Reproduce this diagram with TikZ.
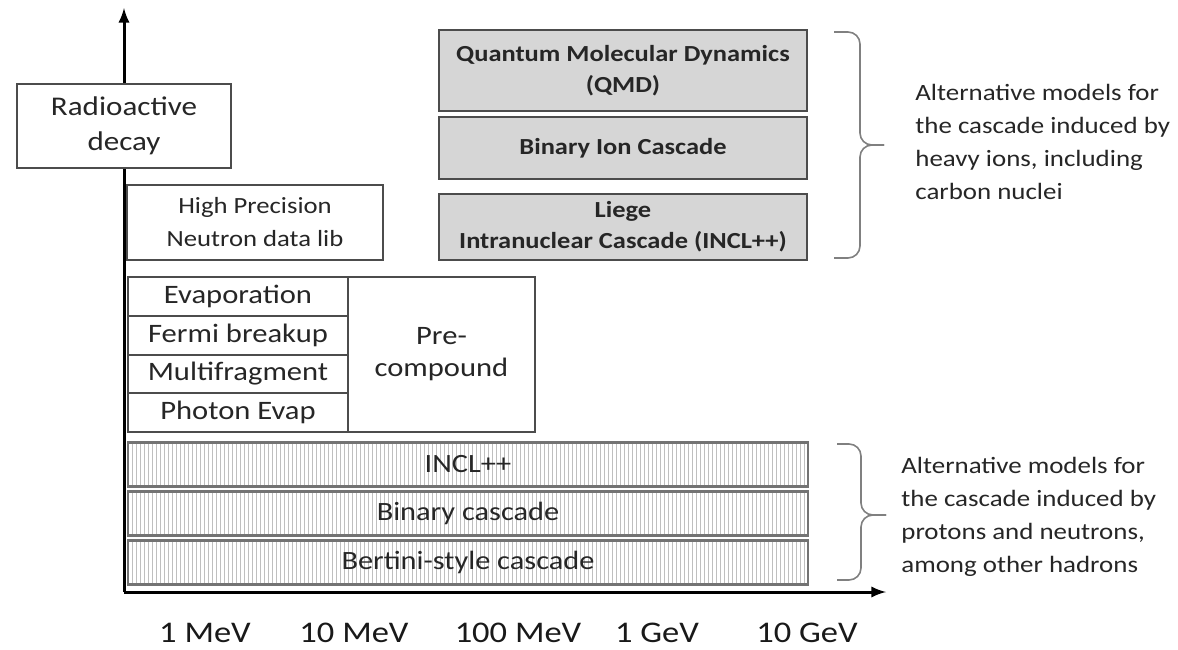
\documentclass[tikz,border=0pt]{standalone}
\usepackage{fontspec}
\setmainfont{Carlito}[FakeStretch=1.15]
\usetikzlibrary{arrows,patterns.meta}

\begin{document}
\begin{tikzpicture}[x=0.5pt,y=-0.5pt,
  box/.style={draw=black!70, line width=1pt, fill=white, align=center,
    inner sep=0pt, text=black!85},
  ionbox/.style={box, fill=black!16, minimum width=184pt,
    font=\fontsize{11.5}{15.5}\selectfont\bfseries},
  evbox/.style={box, minimum width=110pt, minimum height=19.375pt,
    font=\fontsize{13.3}{16}\selectfont},
  hadbox/.style={box, draw=black!55, line width=1.3pt, fill=none,
    pattern={Lines[angle=90,distance=2pt,line width=0.35pt]},
    pattern color=black!25, minimum width=340pt, minimum height=22pt,
    font=\fontsize{13.2}{16}\selectfont},
  brace/.style={draw=black!50, line width=0.8pt, rounded corners=6pt},
  note/.style={align=left, inner sep=0pt, text=black!85,
    font=\fontsize{11.7}{16.5}\selectfont},
  tick/.style={inner sep=0pt, text=black!90, font=\fontsize{15}{18}\selectfont}]
  \useasboundingbox (0,0) rectangle (1178,649);

  %% Axes
  \coordinate (O) at (124,592);
  \coordinate (Ytop) at (124,8);
  \coordinate (Xend) at (886,592);
  \draw[-latex, line width=1.5pt] (O) -- (Ytop);
  \draw[-latex, line width=1.5pt] (O) -- (Xend);

  %% Low energy models
  \node[box, minimum width=107pt, minimum height=42pt,
    font=\fontsize{13.5}{17.5}\selectfont] (rad) at (124,126) {Radioactive\\decay};
  \node[box, minimum width=128pt, minimum height=37.5pt,
    font=\fontsize{11.6}{16.5}\selectfont] (hpn) at (255,222.5) {High Precision\\Neutron data lib};

  \foreach \txt [count=\i from 0] in {Evaporation, Fermi breakup, Multifragment, Photon Evap}
  {
    \node[evbox] (ev\i) at (238,{296.4+38.75*\i}) {\txt};
  }
  \node[box, minimum width=93.5pt, minimum height=77.5pt,
    font=\fontsize{13.3}{16}\selectfont] (pre) at (441.5,354.5) {Pre-\\compound};

  %% Heavy ion cascades
  \node[ionbox, minimum height=40.5pt] (qmd) at (623,70.5) {Quantum Molecular Dynamics\\(QMD)};
  \node[ionbox, minimum height=31pt] (bic) at (623,148) {Binary Ion Cascade};
  \node[ionbox, minimum height=33pt] (liege) at (623,227) {Liege\\Intranuclear Cascade (INCL++)};

  %% Hadron cascades
  \foreach \txt/\nm [count=\i from 0] in {INCL++/incl, Binary cascade/bin, Bertini-style cascade/bert}
  {
    \node[hadbox] (\nm) at (468,{464.5+49*\i}) {\txt};
  }

  %% Braces and notes
  \coordinate (ionT) at (834,32);
  \coordinate (ionB) at (834,258);
  \coordinate (ionM) at (860,145);
  \coordinate (ionTip) at (884,145);
  \draw[brace] (ionT) -| (ionM) -- (ionTip);
  \draw[brace] (ionB) -| (ionM) -- (ionTip);
  \node[note, anchor=west] (ionnote) at (915,142)
    {Alternative models for\\the cascade induced by\\heavy ions, including\\carbon nuclei};

  \coordinate (hadT) at (837,444);
  \coordinate (hadB) at (837,580);
  \coordinate (hadM) at (861,515);
  \coordinate (hadTip) at (886,515);
  \draw[brace] (hadT) -| (hadM) -- (hadTip);
  \draw[brace] (hadB) -| (hadM) -- (hadTip);
  \node[note, anchor=west] (hadnote) at (901,517)
    {Alternative models for\\the cascade induced by\\protons and neutrons,\\among other hadrons};

  %% Energy labels
  \foreach \xc/\lab [count=\i] in {205/1 MeV, 354/10 MeV, 518/100 MeV, 657/1 GeV, 807/10 GeV}
  {
    \node[tick] (en\i) at (\xc,633) {\lab};
  }
\end{tikzpicture}
\end{document}
